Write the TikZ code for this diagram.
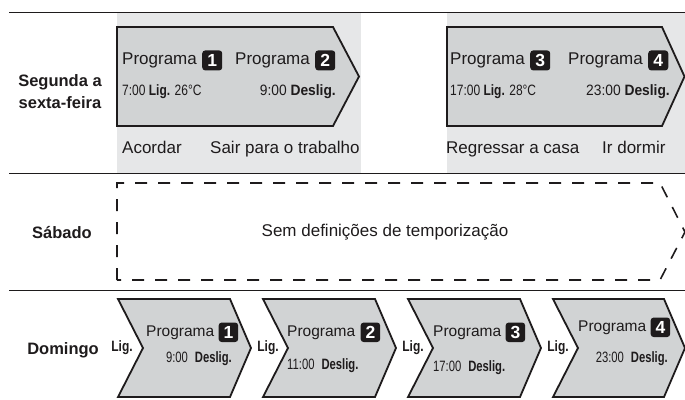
\documentclass[tikz,border=0pt]{standalone}
\usepackage{fontspec}
\setmainfont{Liberation Sans}
\newfontfamily\condfont[FakeStretch=0.8]{Liberation Sans}
\newfontfamily\semicondfont[FakeStretch=0.92]{Liberation Sans}
\newfontfamily\narrowfont[FakeStretch=0.75]{Liberation Sans}
\usetikzlibrary{positioning}

\definecolor{chevgray}{RGB}{209,211,212}
\definecolor{panelgray}{RGB}{230,231,232}
\definecolor{inkblack}{RGB}{30,27,28}

\tikzset{
  every node/.style={inner sep=0pt, text=inkblack},
  rule/.style={draw=inkblack, line width=1bp},
  chevron/.style={draw=inkblack, fill=chevgray, line width=1.8bp},
  nochevron/.style={draw=inkblack, line width=1.6bp, dash pattern=on 12bp off 11bp},
  daylabel/.style={font=\fontsize{16.5bp}{22bp}\selectfont\bfseries, align=center},
  prog/.style={font=\fontsize{17bp}{20bp}\selectfont, anchor=base west},
  sprog/.style={font=\fontsize{15.5bp}{18bp}\selectfont, anchor=base west},
  badge/.style={fill=inkblack, rounded corners=3bp, minimum size=20bp,
    text=white, font=\fontsize{17.5bp}{18bp}\selectfont\bfseries},
  sbadge/.style={badge, minimum size=19.5bp},
  timeon/.style={font=\fontsize{15bp}{18bp}\selectfont\condfont, anchor=base west},
  timeoff/.style={font=\fontsize{15bp}{18bp}\selectfont\semicondfont, anchor=base east},
  sunon/.style={font=\fontsize{15bp}{18bp}\selectfont\condfont\bfseries, anchor=base},
  sunoff/.style={font=\fontsize{15bp}{18bp}\selectfont\narrowfont},
  caption/.style={font=\fontsize{17bp}{20bp}\selectfont, anchor=base west}
}

\begin{document}
\begin{tikzpicture}[x=1bp, y=-1bp]
\useasboundingbox (0,0) rectangle (685,399);

% weekday panels
\fill[panelgray] (117,12.5) rectangle (361,173);
\fill[panelgray] (447,12.5) rectangle (685,173);
\draw[rule] (9,12) -- (685,12);
\draw[rule] (9,173) -- (685,173);
\draw[rule] (9,290.5) -- (685,290.5);

% Segunda a sexta-feira
\node[daylabel] (wkday) at (60,92) {Segunda a\\sexta-feira};
\draw[chevron] (117,27) -- (333,27) -- (359,76.5) -- (333,126) -- (117,126) -- cycle;
\draw[chevron] (447,27) -- (662,27) -- (684.5,76.5) -- (662,126) -- (447,126) -- cycle;
\node[prog] (p1) at (122,64.5) {Programa};
\node[badge, right=5bp of p1] (b1) {1};
\node[prog] (p2) at (235,64.5) {Programa};
\node[badge, right=5bp of p2] (b2) {2};
\node[timeon] (on1) at (122,95) {7:00 \textbf{Lig.} 26°C};
\node[timeoff] (off2) at (336,95) {9:00 \textbf{Deslig.}};
\node[caption] (wake) at (122,153) {Acordar};
\node[caption] (work) at (210,153) {Sair para o trabalho};
\node[prog] (p3) at (450,64.5) {Programa};
\node[badge, right=5bp of p3] (b3) {3};
\node[prog] (p4) at (568,64.5) {Programa};
\node[badge, right=5bp of p4] (b4) {4};
\node[timeon] (on3) at (450,95) {17:00 \textbf{Lig.} 28°C};
\node[timeoff] (off4) at (670,95) {23:00 \textbf{Deslig.}};
\node[caption] (home) at (446,153) {Regressar a casa};
\node[caption] (sleep) at (602,153) {Ir dormir};

% Sabado
\node[daylabel, anchor=base] (sat) at (62,238) {Sábado};
\draw[nochevron] (117,280) -- (117,183) -- (660,183) -- (685,232) -- (660,280) -- cycle;
\node[font=\fontsize{17bp}{20bp}\selectfont] (none) at (385,232) {Sem definições de temporização};

% Domingo
\node[daylabel, anchor=base] (sun) at (63,354) {Domingo};
\draw[chevron] (118,299) -- (230,299) -- (251,348) -- (230,397) -- (118,397) -- (143,348) -- cycle;
\draw[chevron] (263,299) -- (375,299) -- (396,348) -- (375,397) -- (263,397) -- (288,348) -- cycle;
\draw[chevron] (408,299) -- (520,299) -- (541,348) -- (520,397) -- (408,397) -- (433,348) -- cycle;
\draw[chevron] (553,299) -- (664,299) -- (685,348) -- (664,397) -- (553,397) -- (578,348) -- cycle;
\node[sunon] (on5) at (122,351) {Lig.};
\node[sunon] (on6) at (268,351) {Lig.};
\node[sunon] (on7) at (413,351) {Lig.};
\node[sunon] (on8) at (558,351) {Lig.};
\node[sprog] (p5) at (146,336) {Programa};
\node[sbadge, right=4bp of p5] (b5) {1};
\node[sprog] (p6) at (287,336) {Programa};
\node[sbadge, right=5bp of p6] (b6) {2};
\node[sprog] (p7) at (433,336) {Programa};
\node[sbadge, right=4bp of p7] (b7) {3};
\node[sprog] (p8) at (578,331) {Programa};
\node[sbadge, right=4bp of p8] (b8) {4};
\node[sunoff, anchor=base east] (off5) at (232,362) {9:00\hspace{7bp}\textbf{Deslig.}};
\node[sunoff, anchor=base west] (off6) at (287,369) {11:00\hspace{7bp}\textbf{Deslig.}};
\node[sunoff, anchor=base west] (off7) at (433,371) {17:00\hspace{7bp}\textbf{Deslig.}};
\node[sunoff, anchor=base east] (off8) at (668,362) {23:00\hspace{7bp}\textbf{Deslig.}};
\end{tikzpicture}
\end{document}
